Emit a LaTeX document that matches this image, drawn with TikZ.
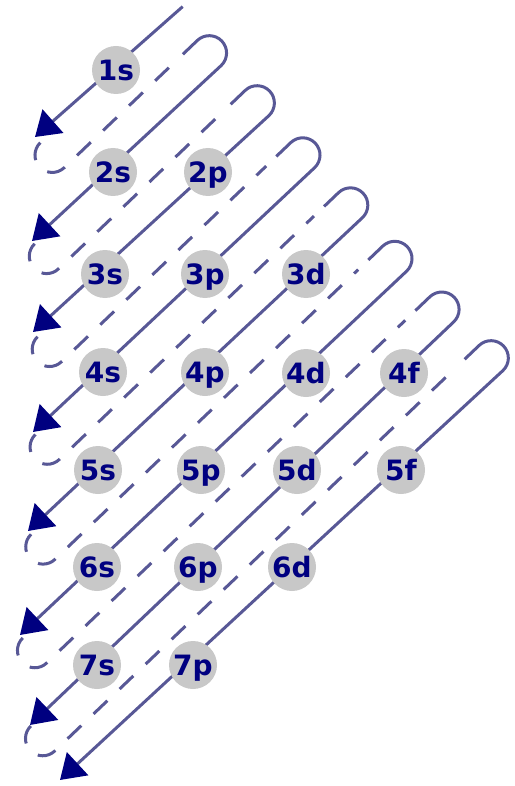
\documentclass[tikz,border=0pt]{standalone}
\usepackage{fontspec}
\newfontfamily\orbfont{DejaVu Sans}
\usetikzlibrary{arrows.meta}
\definecolor{linecol}{RGB}{88,88,150}
\definecolor{navyc}{RGB}{0,0,128}
\definecolor{orbgray}{RGB}{200,200,200}
\begin{document}
\begin{tikzpicture}[x=1pt,y=1pt,
  orb/.style={circle, fill=orbgray, minimum size=48pt, inner sep=0pt, text=navyc,
    text height=20.4pt, text depth=0pt,
    font=\orbfont\bfseries\fontsize{28}{28}\selectfont},
  solidline/.style={draw=linecol, line width=3pt,
    -{Triangle[length=24pt,width=31pt,color=navyc]}},
  returnline/.style={draw=linecol, line width=3pt, dash pattern=on 19pt off 17pt}]
\useasboundingbox (0,0) rectangle (514,-786);
% arrow tips
\coordinate (tip1) at (35,-137);
\coordinate (tip2) at (32,-241);
\coordinate (tip3) at (33,-332);
\coordinate (tip4) at (33,-432);
\coordinate (tip5) at (28,-531);
\coordinate (tip6) at (20,-635);
\coordinate (tip7) at (30,-725);
\coordinate (tip8) at (60,-780);
\begin{scope}[rotate=43.7]
  % first diagonal
  \coordinate (top1) at (127.5,-131);
  \draw[solidline] (top1) -- (tip1);
  % hooks and diagonals 2..8
  \foreach \k/\c/\w/\ub/\vk in {
      1/114.7/165.6/-69.4/131,
      2/114.7/234.8/-143.4/200.2,
      3/111.7/304/-205.5/269.4,
      4/111.7/373.2/-274.6/338.6,
      5/106.7/442.4/-346.7/407.8,
      6/105.7/511.6/-424.3/477,
      7/107.7/580.8/-479.3/546.2}{
    \pgfmathtruncatemacro{\nk}{\k+1}
    \coordinate (hs\k) at ({\c-20},-\w);
    \coordinate (hc\k) at (\c,-\w);
    \coordinate (ds\k) at (\ub,-\vk);
    \coordinate (de\k) at ({\c-34},-\w);
    \draw[solidline] (hs\k) -- (hc\k) arc[start angle=90,end angle=-90,radius=17.3] -- (tip\nk);
    \draw[returnline] (ds\k) arc[start angle=90,end angle=270,radius=17.3] -- (de\k);
  }
\end{scope}
% orbitals
\node[orb] (o1s) at (116,-70) {1s};
\node[orb] (o2s) at (113,-172) {2s};
\node[orb] (o2p) at (208,-172) {2p};
\node[orb] (o3s) at (105,-274) {3s};
\node[orb] (o3p) at (205,-274) {3p};
\node[orb] (o3d) at (306,-274) {3d};
\node[orb] (o4s) at (103,-372) {4s};
\node[orb] (o4p) at (205,-372) {4p};
\node[orb] (o4d) at (306,-373) {4d};
\node[orb] (o4f) at (404,-373) {4f};
\node[orb] (o5s) at (98,-470) {5s};
\node[orb] (o5p) at (201,-470) {5p};
\node[orb] (o5d) at (297,-470) {5d};
\node[orb] (o5f) at (401,-470) {5f};
\node[orb] (o6s) at (97,-567) {6s};
\node[orb] (o6p) at (198,-567) {6p};
\node[orb] (o6d) at (292,-567) {6d};
\node[orb] (o7s) at (97,-665) {7s};
\node[orb] (o7p) at (193,-665) {7p};
\end{tikzpicture}
\end{document}
